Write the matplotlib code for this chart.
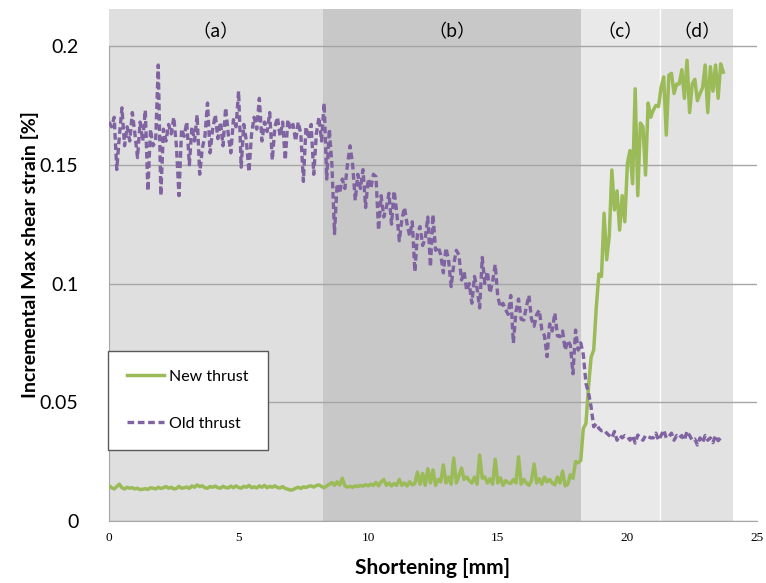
import numpy as np
import matplotlib
matplotlib.use('Agg')
import matplotlib.pyplot as plt

plt.rcParams['font.family'] = ['Lato', 'DejaVu Sans']

# shortening [mm], sampled every 0.1 mm
shortening = np.round(np.arange(0, 23.75, 0.1), 1)

# old thrust (purple dashed)
old_thrust = [
    0.168, 0.166, 0.170, 0.148, 0.162, 0.174, 0.158, 0.166, 0.160, 0.172,
    0.163, 0.153, 0.168, 0.160, 0.173, 0.139, 0.165, 0.158, 0.160, 0.192,
    0.137, 0.165, 0.160, 0.167, 0.163, 0.170, 0.158, 0.137, 0.165, 0.162,
    0.168, 0.150, 0.166, 0.160, 0.171, 0.146, 0.157, 0.162, 0.176, 0.155,
    0.165, 0.171, 0.161, 0.168, 0.158, 0.174, 0.163, 0.155, 0.169, 0.166,
    0.181, 0.149, 0.167, 0.160, 0.147, 0.163, 0.170, 0.165, 0.178, 0.160,
    0.168, 0.164, 0.172, 0.152, 0.166, 0.170, 0.162, 0.168, 0.152, 0.169,
    0.165, 0.167, 0.160, 0.168, 0.163, 0.143, 0.166, 0.161, 0.167, 0.146,
    0.163, 0.170, 0.160, 0.176, 0.144, 0.165, 0.150, 0.121, 0.142, 0.138,
    0.144, 0.140, 0.150, 0.158, 0.150, 0.135, 0.146, 0.140, 0.148, 0.132,
    0.144, 0.140, 0.146, 0.145, 0.1225, 0.137, 0.128, 0.132, 0.138, 0.125,
    0.139, 0.130, 0.118, 0.127, 0.132, 0.125, 0.120, 0.126, 0.105, 0.121,
    0.124, 0.116, 0.119, 0.128, 0.107, 0.129, 0.114, 0.1155, 0.112, 0.1045,
    0.115, 0.110, 0.0987, 0.108, 0.114, 0.112, 0.1015, 0.105, 0.097, 0.100,
    0.0917, 0.103, 0.098, 0.0897, 0.111, 0.100, 0.105, 0.096, 0.101, 0.108,
    0.0944, 0.090, 0.0917, 0.089, 0.087, 0.095, 0.0749, 0.088, 0.0935, 0.085,
    0.0846, 0.090, 0.095, 0.085, 0.082, 0.087, 0.0888, 0.0804, 0.078, 0.0692,
    0.083, 0.080, 0.0876, 0.078, 0.0776, 0.080, 0.072, 0.076, 0.074, 0.062,
    0.0804, 0.072, 0.075, 0.070, 0.058, 0.054, 0.048, 0.0397, 0.041, 0.039,
    0.038, 0.0383, 0.037, 0.036, 0.035, 0.0377, 0.034, 0.036, 0.035, 0.036,
    0.0355, 0.034, 0.036, 0.0328, 0.0362, 0.035, 0.034, 0.036, 0.0355, 0.035,
    0.035, 0.037, 0.034, 0.036, 0.0383, 0.035, 0.0355, 0.037, 0.034, 0.036,
    0.035, 0.036, 0.034, 0.0378, 0.036, 0.034, 0.0345, 0.032, 0.035, 0.033,
    0.036, 0.034, 0.035, 0.033, 0.036, 0.0338, 0.035, 0.0347,
]

# new thrust (green solid)
new_thrust = [
    0.015, 0.014, 0.0135, 0.0145, 0.0155, 0.014, 0.0135, 0.0142, 0.0138, 0.014,
    0.0135, 0.0138, 0.0132, 0.0134, 0.0136, 0.0133, 0.014, 0.0138, 0.0135, 0.0142,
    0.0137, 0.014, 0.0145, 0.0138, 0.0142, 0.0135, 0.0137, 0.0146, 0.0138, 0.014,
    0.0143, 0.0137, 0.0148, 0.0142, 0.0152, 0.0145, 0.0148, 0.014, 0.0138, 0.0145,
    0.0142, 0.0147, 0.0140, 0.0138, 0.0146, 0.0141, 0.0139, 0.0147, 0.0140, 0.0148,
    0.0141, 0.0138, 0.0146, 0.0142, 0.015, 0.014, 0.0144, 0.0139, 0.0148, 0.0142,
    0.0150, 0.0140, 0.0146, 0.0142, 0.0148, 0.0141, 0.0139, 0.0145, 0.0137, 0.0134,
    0.013, 0.0132, 0.0138, 0.0142, 0.0137, 0.0144, 0.0141, 0.0146, 0.0148, 0.0143,
    0.0149, 0.0152, 0.0145, 0.0140, 0.0148, 0.0155, 0.0162, 0.0150, 0.0165, 0.0152,
    0.018, 0.0148, 0.0143, 0.0146, 0.0142, 0.0148, 0.0145, 0.0150, 0.0147, 0.0153,
    0.0148, 0.0155, 0.0150, 0.0162, 0.0148, 0.0165, 0.0175, 0.015, 0.0160, 0.0148,
    0.0158, 0.0150, 0.0175, 0.0150, 0.0160, 0.0148, 0.0165, 0.0152, 0.0158, 0.0206,
    0.0155, 0.020, 0.015, 0.022, 0.0160, 0.0215, 0.015, 0.0175, 0.0165, 0.0236,
    0.016, 0.0185, 0.0155, 0.0265, 0.016, 0.019, 0.0223, 0.0175, 0.0185, 0.017,
    0.0160, 0.0185, 0.0155, 0.0278, 0.0180, 0.0185, 0.016, 0.0178, 0.0155, 0.026,
    0.0160, 0.0182, 0.0150, 0.0170, 0.0162, 0.0158, 0.0175, 0.016, 0.027, 0.0155,
    0.0175, 0.0160, 0.0150, 0.0170, 0.024, 0.0160, 0.0178, 0.0155, 0.0185, 0.0165,
    0.0175, 0.0160, 0.0152, 0.0185, 0.0160, 0.021, 0.0148, 0.0155, 0.0195, 0.0180,
    0.0250, 0.0245, 0.0255, 0.039, 0.041, 0.0566, 0.069, 0.072, 0.090, 0.104,
    0.103, 0.1296, 0.110, 0.120, 0.1478, 0.131, 0.139, 0.1225, 0.137, 0.126,
    0.1506, 0.156, 0.142, 0.182, 0.137, 0.1676, 0.166, 0.1457, 0.176, 0.170,
    0.173, 0.175, 0.1745, 0.1825, 0.187, 0.1625, 0.1878, 0.1885, 0.180, 0.184,
    0.184, 0.19, 0.178, 0.194, 0.172, 0.184, 0.186, 0.177, 0.180, 0.1825,
    0.192, 0.172, 0.1913, 0.181, 0.192, 0.178, 0.1925, 0.189,
]

# stages (a)-(d)
stage_labels = ['（a）', '（b）', '（c）', '（d）']
stage_edges = [0, 8.26, 18.2, 21.27, 24.07]
stage_colors = ['#dfdfdf', '#c8c8c8', '#e9e9e9', '#e2e2e2']

ytick_vals = [0, 0.05, 0.1, 0.15, 0.2]
ytick_labels = ['0', '0.05', '0.1', '0.15', '0.2']
xtick_vals = [0, 5, 10, 15, 20, 25]

fig = plt.figure(figsize=(7.66, 5.83), dpi=100)
ax = fig.add_axes([109/766, 62/583, 648/766, 512/583])

for i in range(len(stage_labels)):
    ax.axvspan(stage_edges[i], stage_edges[i+1], color=stage_colors[i], lw=0, zorder=0)
    ax.text((stage_edges[i] + stage_edges[i+1]) / 2, 0.2058, stage_labels[i],
            ha='center', va='center', fontsize=13,
            family=['Noto Sans CJK JP', 'DejaVu Sans'], zorder=4)
# white separator between (c) and (d)
ax.axvline(stage_edges[3], color='white', lw=1, zorder=0.5)

ax.plot(shortening, new_thrust, color='#9bbb59', lw=2.5, label='New thrust', zorder=3)
ax.plot(shortening, old_thrust, color='#8064a2', lw=2.4, ls=(0, (2.0, 1.1)),
        label='Old thrust', zorder=3)

ax.set_xlim(0, 25)
ax.set_ylim(0, 0.2156)
ax.set_yticks(ytick_vals)
ax.set_yticklabels(ytick_labels, fontsize=14)
ax.set_xticks(xtick_vals)
ax.set_xticklabels([str(v) for v in xtick_vals], fontsize=9.5, family='Liberation Serif')
ax.tick_params(axis='both', length=0)
ax.tick_params(axis='y', pad=22)
ax.tick_params(axis='x', pad=8)

ax.grid(axis='y', color='#a6a6a6', lw=1)
ax.set_axisbelow(False)
for s in ['top', 'right']:
    ax.spines[s].set_visible(False)
ax.spines['left'].set_bounds(0, 0.2)
ax.spines['left'].set_color('#a6a6a6')
ax.spines['bottom'].set_color('#a6a6a6')

ax.set_xlabel('Shortening [mm]', fontsize=15, fontweight='bold', labelpad=10)
ax.set_ylabel('Incremental Max shear strain [%]', fontsize=14, fontweight='bold')
ax.yaxis.set_label_coords(-0.108, 0.52)

leg = ax.legend(loc='lower left', bbox_to_anchor=(-0.002, 0.1387), fontsize=11.5,
                frameon=True, fancybox=False, framealpha=1, edgecolor='#595959',
                borderpad=1.2, labelspacing=2.05, handlelength=2.3, handletextpad=0.35,
                borderaxespad=0)
leg.get_frame().set_linewidth(1)
leg.set_zorder(5)

fig.savefig('out.png', dpi=100)
